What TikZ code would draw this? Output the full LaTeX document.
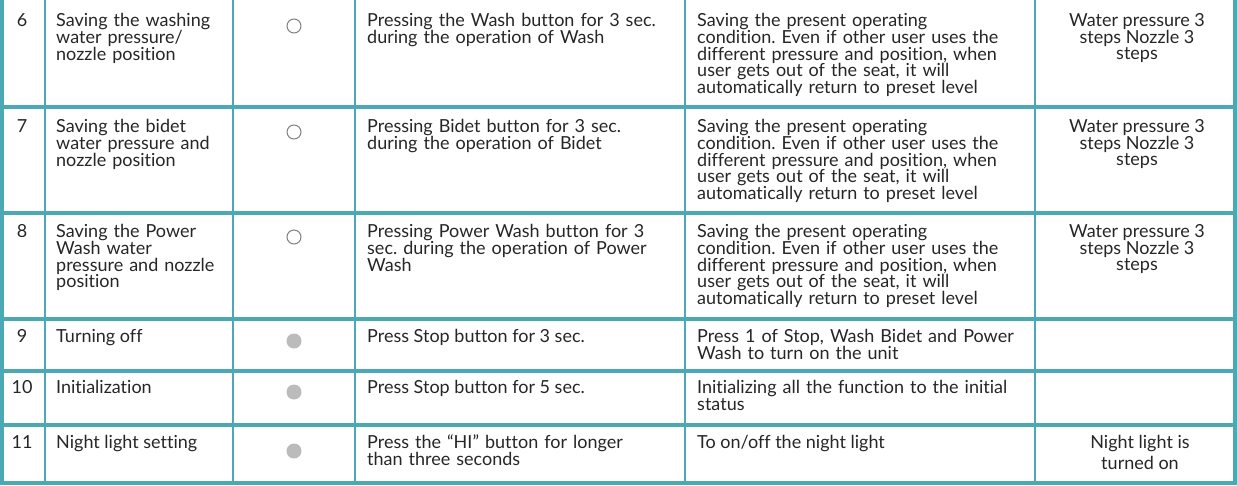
\documentclass[tikz,border=0pt]{standalone}
\usepackage{fontspec}
\setmainfont[Ligatures={NoCommon}]{Lato}
\frenchspacing
\definecolor{teal}{HTML}{4BA8B5}
\definecolor{dot}{HTML}{BBBBBB}
\begin{document}
\begin{tikzpicture}[x=1pt,y=-1pt,
  txt/.style={anchor=north west,inner sep=0pt,align=left,font=\fontsize{18}{16.8}\selectfont,text=black!85},
  ctr/.style={anchor=north,inner sep=0pt,align=center,font=\fontsize{18}{16.8}\selectfont,text=black!85},
  thin/.style={teal,line width=1.3pt},
  thick/.style={teal,line width=3.2pt}]
\useasboundingbox (0,0) rectangle (1237,485);
\foreach \x in {45,233,355,685,1035}{\draw[thin] (\x,0) -- (\x,485);}
\draw[thick] (2,0) -- (2,485);
\draw[thick] (1235,0) -- (1235,485);
\foreach \y in {107,213,319,371,425,483}{\draw[thick] (0,\y) -- (1237,\y);}
% row 6
\node[ctr] (n6) at (22,13) {6};
\node[txt,text width=175] (a6) at (56,13) {Saving the washing\\water pressure/\\nozzle position};
\draw[gray,line width=1pt] (294,26) circle (7);
\node[txt,text width=320] (b6) at (367,13) {Pressing the Wash button for 3 sec.\\during the operation of Wash};
\node[txt,text width=340] (c6) at (697,13) {Saving the present operating\\condition. Even if other user uses the\\different pressure and position, when\\user gets out of the seat, it will\\automatically return to preset level};
\node[ctr] (d6) at (1137,13) {Water pressure 3\\steps Nozzle 3\\steps};
% row 7
\node[ctr] (n7) at (22,119) {7};
\node[txt,text width=175] (a7) at (56,119) {Saving the bidet\\water pressure and\\nozzle position};
\draw[gray,line width=1pt] (294,132) circle (7);
\node[txt,text width=320] (b7) at (367,119) {Pressing Bidet button for 3 sec.\\during the operation of Bidet};
\node[txt,text width=340] (c7) at (697,119) {Saving the present operating\\condition. Even if other user uses the\\different pressure and position, when\\user gets out of the seat, it will\\automatically return to preset level};
\node[ctr] (d7) at (1137,119) {Water pressure 3\\steps Nozzle 3\\steps};
% row 8
\node[ctr] (n8) at (22,224) {8};
\node[txt,text width=175] (a8) at (56,224) {Saving the Power\\Wash water\\pressure and nozzle\\position};
\draw[gray,line width=1pt] (294,237) circle (7);
\node[txt,text width=320] (b8) at (367,224) {Pressing Power Wash button for 3\\sec. during the operation of Power\\Wash};
\node[txt,text width=340] (c8) at (697,224) {Saving the present operating\\condition. Even if other user uses the\\different pressure and position, when\\user gets out of the seat, it will\\automatically return to preset level};
\node[ctr] (d8) at (1137,224) {Water pressure 3\\steps Nozzle 3\\steps};
% row 9
\node[ctr] (n9) at (22,329) {9};
\node[txt] (a9) at (56,329) {Turning off};
\fill[dot] (294,341) circle (7.5);
\node[txt] (b9) at (367,329) {Press Stop button for 3 sec.};
\node[txt,text width=340] (c9) at (697,329) {Press 1 of Stop, Wash Bidet and Power\\Wash to turn on the unit};
% row 10
\node[ctr] (n10) at (22,380) {10};
\node[txt] (a10) at (56,380) {Initialization};
\fill[dot] (294,392) circle (7.5);
\node[txt] (b10) at (367,380) {Press Stop button for 5 sec.};
\node[txt,text width=340] (c10) at (697,380) {Initializing all the function to the initial\\status};
% row 11
\node[ctr] (n11) at (22,435) {11};
\node[txt] (a11) at (56,435) {Night light setting};
\fill[dot] (294,451) circle (7.5);
\node[txt,text width=320] (b11) at (367,435) {Press the “HI” button for longer\\than three seconds};
\node[txt] (c11) at (697,435) {To on/off the night light};
\node[ctr,font=\fontsize{18}{21}\selectfont] (d11) at (1140,435) {Night light is\\turned on};
\end{tikzpicture}
\end{document}
